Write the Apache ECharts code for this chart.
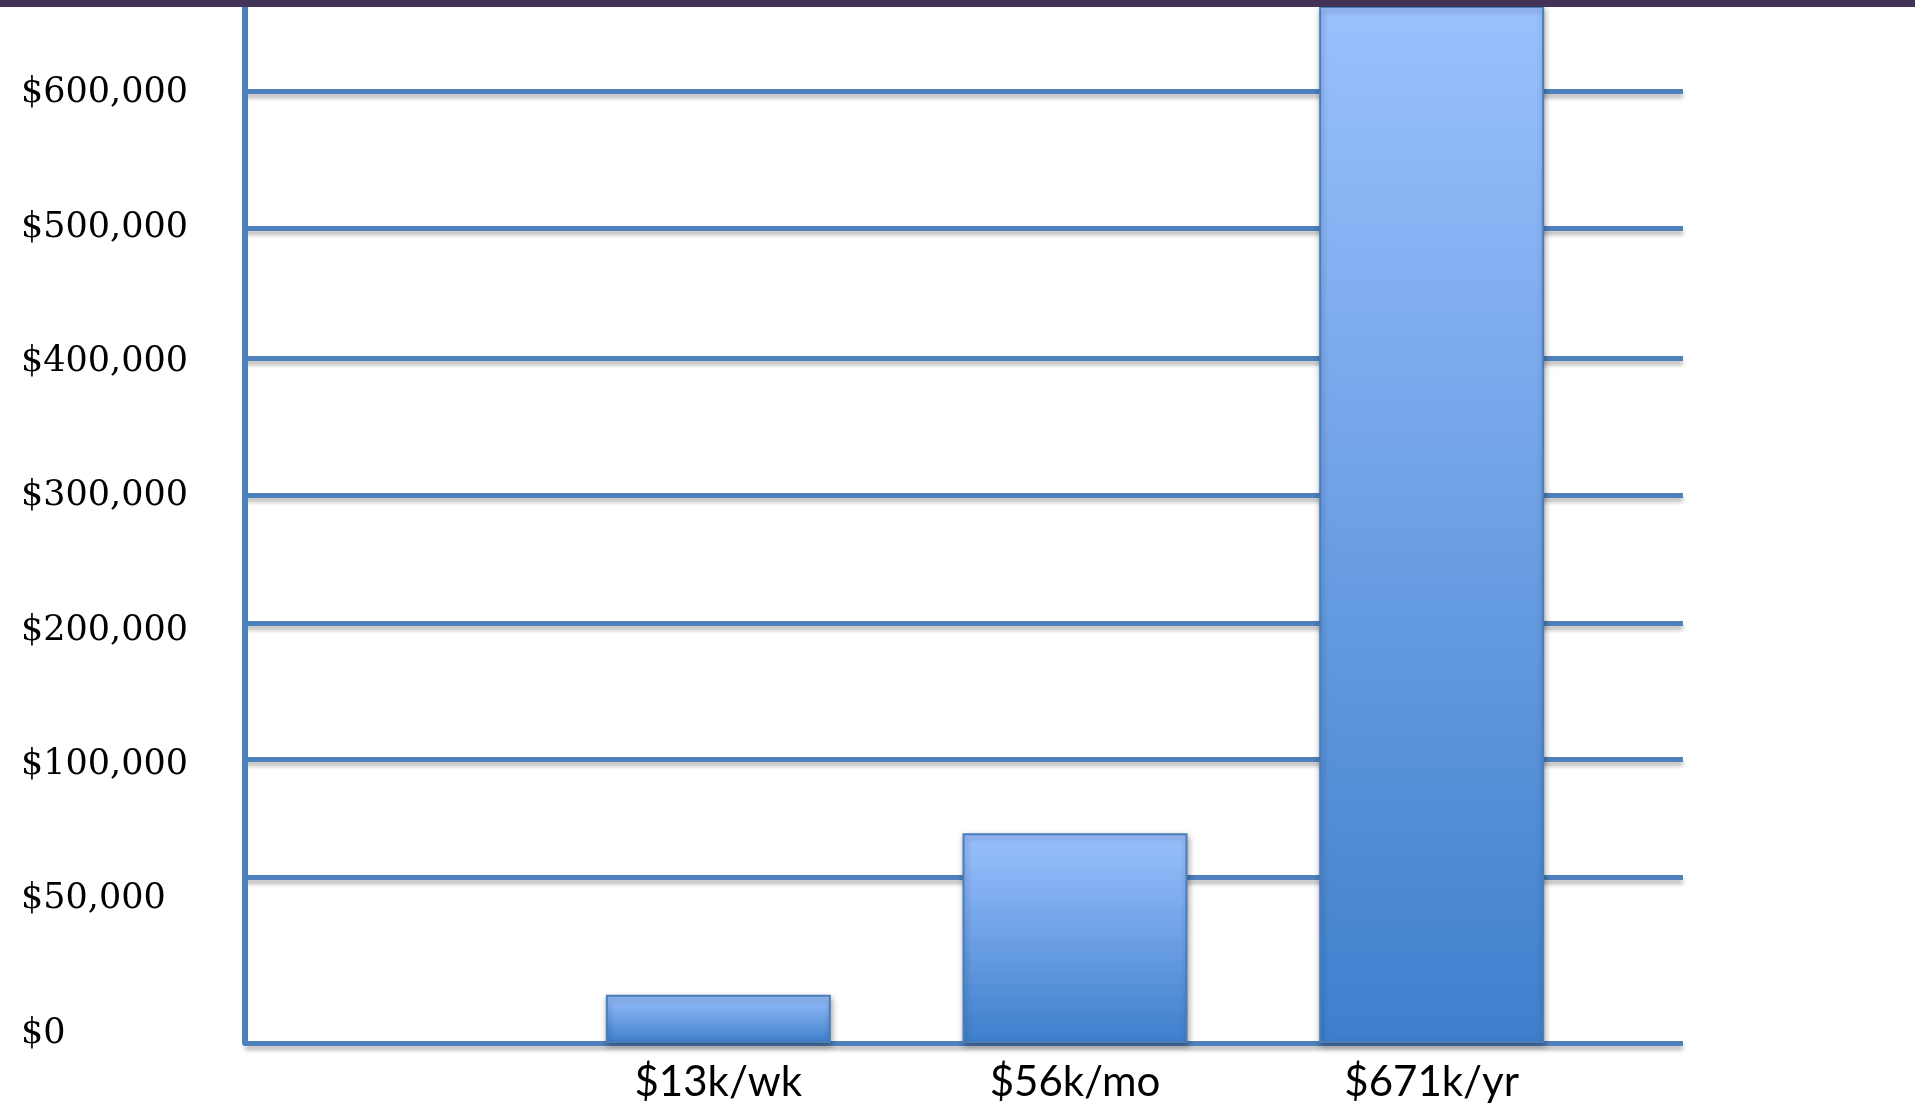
<!DOCTYPE html>
<html>
<head>
<meta charset="utf-8">
<script src="https://cdn.jsdelivr.net/npm/echarts@6/dist/echarts.min.js"></script>
<style>
html, body { margin: 0; padding: 0; background: #ffffff; overflow: hidden; }
#chart { width: 1915px; height: 1107px; position: relative; }
#band { position: absolute; left: 0; top: 0; width: 1915px; height: 7px; background: #433357; z-index: 10; }
</style>
</head>
<body>
<div id="chart"></div>
<div id="band"></div>
<script>
// ---- data ----
const categories = ['$13k/wk', '$56k/mo', '$671k/yr'];
const barValues = [14500, 68500, 671000];
const yTickValues = [0, 50000, 100000, 200000, 300000, 400000, 500000, 600000];
const yTickLabels = ['$0', '$50,000', '$100,000', '$200,000', '$300,000', '$400,000', '$500,000', '$600,000'];

// ---- layout of the hand-drawn (non-linear) value scale; axis units = px above the baseline ----
const SCALE_TOP = 1036;
const gridStops = [0, 166, 284, 420, 548, 685, 815, 952];     // where each tick value's gridline sits
const labelStops = [9.5, 144, 278, 412, 547, 681, 815, 950];   // where each tick label sits

function toAxis(v) {
  const n = yTickValues.length;
  let i = 1;
  while (i < n - 1 && v > yTickValues[i]) i++;
  const v0 = yTickValues[i - 1], v1 = yTickValues[i];
  const p0 = gridStops[i - 1], p1 = gridStops[i];
  return p0 + (v - v0) / (v1 - v0) * (p1 - p0);
}
function labelFor(pos) {
  let best = 0, d = Infinity;
  labelStops.forEach(function (p, i) { const dd = Math.abs(p - pos); if (dd < d) { d = dd; best = i; } });
  return yTickLabels[best];
}

const LINE = '#4f81bd';
const chart = echarts.init(document.getElementById('chart'), null, { renderer: 'canvas', width: 1915, height: 1107 });

chart.setOption({
  backgroundColor: '#ffffff',
  animation: false,
  grid: [
    { left: 245, right: 232, top: 7, bottom: 64, containLabel: false, outerBoundsMode: 'none' },
    { left: 540, right: 305, top: 7, bottom: 64, containLabel: false, outerBoundsMode: 'none' }
  ],
  xAxis: [
    {
      gridIndex: 0, type: 'value', min: 0, max: 1,
      axisLine: { show: false }, axisTick: { show: false }, axisLabel: { show: false }, splitLine: { show: false }
    },
    {
      gridIndex: 1, type: 'category', data: categories,
      axisLine: { show: false }, axisTick: { show: false }, splitLine: { show: false },
      axisLabel: { interval: 0, margin: 18, color: '#000000', fontFamily: 'Lato', fontSize: 42 }
    }
  ],
  yAxis: [
    {
      gridIndex: 0, type: 'value', min: 0, max: SCALE_TOP,
      axisLine: { show: true, lineStyle: { color: LINE, width: 6 } },
      axisTick: { show: false, customValues: gridStops },
      splitLine: {
        show: true,
        lineStyle: { color: LINE, width: 5, shadowColor: 'rgba(0,0,0,0.28)', shadowBlur: 4, shadowOffsetY: 4 }
      },
      axisLabel: {
        show: true, customValues: labelStops, formatter: labelFor,
        align: 'left', margin: 224, color: '#000000', fontFamily: 'DejaVu Serif', fontSize: 35
      }
    },
    {
      gridIndex: 1, type: 'value', min: 0, max: SCALE_TOP, show: false,
      splitLine: { show: false }
    }
  ],
  series: [
    {
      type: 'bar', xAxisIndex: 1, yAxisIndex: 1, barWidth: 225, clip: true, silent: true, z: 3,
      data: barValues.map(toAxis),
      itemStyle: {
        color: new echarts.graphic.LinearGradient(0, 0, 0, 1, [
          { offset: 0, color: '#9bc1fe' },
          { offset: 1, color: '#3e7fcc' }
        ]),
        borderColor: '#4a7ebb', borderWidth: 2,
        shadowColor: 'rgba(0,0,0,0.35)', shadowBlur: 6, shadowOffsetX: 1, shadowOffsetY: 3
      }
    }
  ]
});
</script>
</body>
</html>
